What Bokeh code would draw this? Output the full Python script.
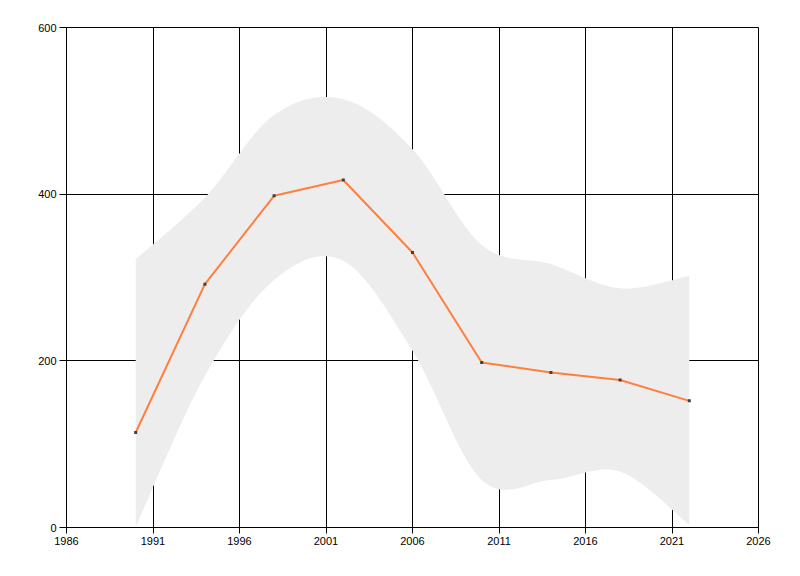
import numpy as np
from bokeh.plotting import figure
from bokeh.models import Range1d, FixedTicker
from bokeh.embed import file_html
from bokeh.resources import INLINE

# ---- data ----
years = [1990, 1994, 1998, 2002, 2006, 2010, 2014, 2018, 2022]
values = [114, 292, 398, 417, 330, 198, 186, 177, 152]
upper = [322, 396, 495, 514, 454, 339, 316, 287, 302]
lower = [1, 182, 297, 320, 212, 57, 57, 67, 3]
x_ticks = [1986, 1991, 1996, 2001, 2006, 2011, 2016, 2021, 2026]
y_ticks = [0, 200, 400, 600]


def cardinal_spline(xs, ys, tension=0.5, steps=24):
    """Smooth drawing path through the given nodes (GDI+-style cardinal spline)."""
    P = np.column_stack([np.asarray(xs, float), np.asarray(ys, float)])
    n = len(P)
    out = [P[0]]
    for i in range(n - 1):
        p_prev = P[i - 1] if i > 0 else P[i]
        p_next2 = P[i + 2] if i + 2 < n else P[i + 1]
        c1 = P[i] + tension * (P[i + 1] - p_prev) / 3.0
        c2 = P[i + 1] - tension * (p_next2 - P[i]) / 3.0
        t = np.linspace(0, 1, steps + 1)[1:][:, None]
        seg = ((1 - t) ** 3) * P[i] + 3 * ((1 - t) ** 2) * t * c1 + 3 * (1 - t) * t ** 2 * c2 + t ** 3 * P[i + 1]
        out.extend(seg)
    arr = np.array(out)
    return arr[:, 0], arr[:, 1]


ux, uy = cardinal_spline(years, upper)
lx, ly = cardinal_spline(years, lower)

p = figure(
    width=792, height=568,
    frame_width=692, frame_height=500,
    min_border_left=66, min_border_right=34, min_border_top=27, min_border_bottom=41,
    x_range=Range1d(1986, 2026), y_range=Range1d(0, 600),
    output_backend="svg", toolbar_location=None,
)

p.outline_line_color = "black"
p.outline_line_width = 1
p.background_fill_color = "white"
p.border_fill_color = "white"

# band
p.patch(
    x=np.concatenate([ux, lx[::-1]]),
    y=np.concatenate([uy, ly[::-1]]),
    fill_color="#EDEDED", line_color=None,
)

# series line
p.line(years, values, line_color="#FF7F3F", line_width=2)
p.scatter(years, values, marker="square", size=3, fill_color="#404040", line_color=None)

for ax, ticks in ((p.xaxis, x_ticks), (p.yaxis, y_ticks)):
    ax.ticker = FixedTicker(ticks=ticks)
    ax.minor_tick_line_color = None
    ax.major_tick_in = 0
    ax.major_tick_out = 7
    ax.major_tick_line_color = "black"
    ax.axis_line_color = "black"
    ax.major_label_text_font = "Liberation Sans"
    ax.major_label_text_font_size = "11px"
    ax.major_label_text_color = "black"
    ax.major_label_standoff = 3

p.xaxis.major_tick_out = 6

for g in (p.xgrid, p.ygrid):
    g.grid_line_color = "black"
    g.grid_line_width = 1
    g.grid_line_alpha = 1.0
p.xgrid.ticker = FixedTicker(ticks=x_ticks)
p.ygrid.ticker = FixedTicker(ticks=y_ticks)

open("out.html", "w").write(file_html(p, INLINE))
